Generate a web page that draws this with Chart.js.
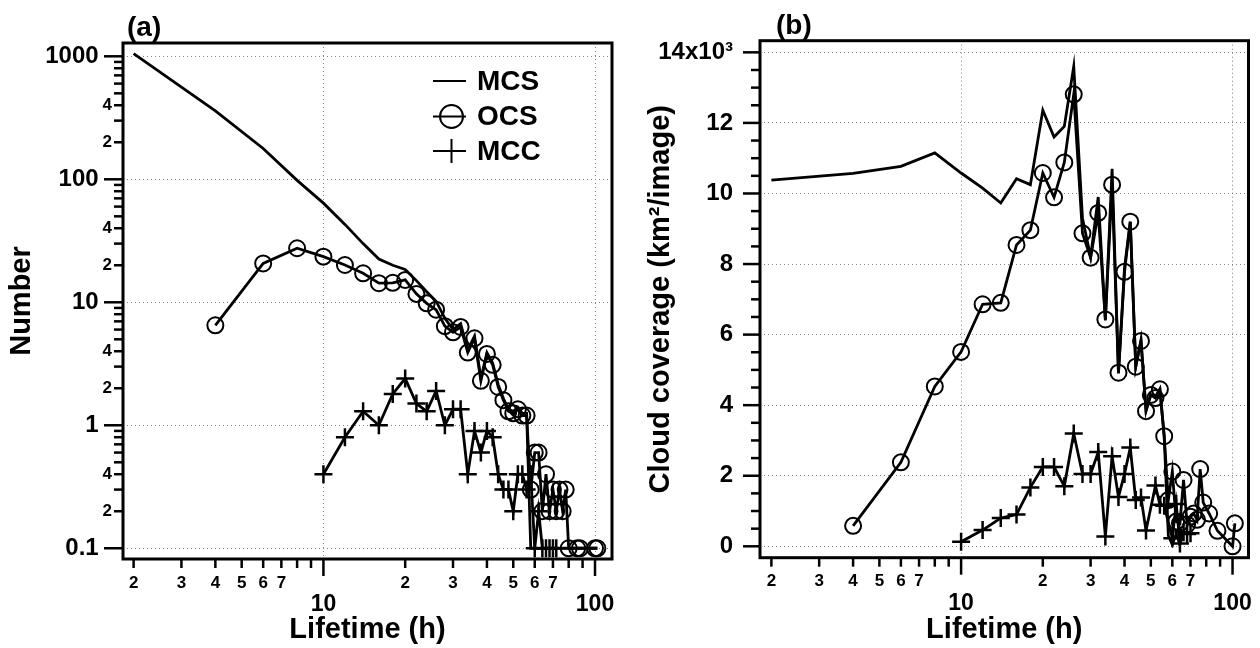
<!DOCTYPE html>
<html><head><meta charset="utf-8">
<script src="https://cdn.jsdelivr.net/npm/chart.js@4"></script>
<style>
html,body{margin:0;padding:0;background:#fff;}
#wrap{position:relative;width:1260px;height:648px;overflow:hidden;}
canvas{position:absolute;top:0;}
#ca{left:0;} #cb{left:630px;}
</style></head><body>
<div id="wrap"><canvas id="ca" width="630" height="648"></canvas><canvas id="cb" width="630" height="648"></canvas></div>
<script>
const FONT = "'Liberation Sans', Arial, Helvetica, sans-serif";

// Lifetime bins (h)
const hours = [2,4,6,8,10,12,14,16,18,20,22,24,26,28,30,32,34,36,38,40,42,44,46,48,50,52,54,56,58,60,62,64,66,68,70,72,74,76,78,80,82,84,86,88,90,92,94,96,98,100,102];

// Panel (a): Number
const mcsNumber = [1050,360,178,98,64,43,30,22.5,20,18.5,15,12.2,10.2,7.4,6.0,6.7,4.1,5.3,2.4,3.9,3.2,2.15,1.65,1.35,1.3,1.4,1.25,1.25,
  0.1,0.1,0.1,0.1,0.1,0.1,0.1,0.1,0.1,0.1,0.1,0.1,0.1,0.1,0.1,0.1,0.1,0.1,0.1,0.1,0.1,0.1,0.1];
const ocsNumber = [null,6.5,20.7,27.5,23.5,20.1,17.2,14.3,14.4,15.2,11.7,9.8,8.7,6.4,5.7,6.3,3.9,5.1,2.3,3.8,3.1,2.05,1.6,1.3,1.25,1.35,1.2,1.2,
  0.3,0.6,0.6,0.2,0.4,0.2,0.3,0.2,0.3,0.2,0.3,0.1,null,null,0.1,0.1,null,null,null,null,null,0.1,0.1];
const mccNumber = [null,null,null,null,0.4,0.8,1.3,1.0,1.8,2.4,1.5,1.3,1.9,1.0,1.35,1.35,0.4,0.9,0.6,0.9,0.8,0.4,0.3,0.3,0.2,0.4,0.4,0.3,0.4,
  0.1,0.2,0.1,0.1,0.1,0.1,0.1,null,null,null,null,null,null,null,null,null,null,null,null,null,null,null];

// Panel (b): Cloud coverage (x10^3 km2/image)
const mcsCover = [10.38,10.57,10.77,11.15,10.58,10.15,9.73,10.42,10.25,12.36,11.6,11.9,13.6,9.3,8.2,9.9,6.4,10.7,4.9,7.9,9.2,5.1,5.85,3.85,4.3,4.25,4.45,3.12,
  0.3,0.05,0.35,0.05,0.4,null,null,null,null,null,null,null,null,null,null,null,null,null,null,null,null,null,null];
const ocsCover = [null,0.58,2.38,4.53,5.51,6.86,6.9,8.54,8.96,10.58,9.89,10.88,12.81,8.87,8.18,9.45,6.43,10.25,4.92,7.78,9.2,5.09,5.82,3.83,4.29,4.2,4.45,3.12,
  1.31,2.12,0.7,0.65,1.88,0.62,0.84,0.93,0.75,2.19,1.24,null,0.93,null,null,0.44,null,null,null,null,null,0,0.65];
const mccCover = [null,null,null,null,0.13,0.46,0.8,0.9,1.67,2.25,2.25,1.7,3.2,2.05,2.05,2.67,0.28,2.55,1.4,2.05,2.8,1.31,1.38,0.45,null,1.72,1.18,1.15,
  null,0.23,1.2,0.08,0.4,0.35,0.37,null,null,null,null,null,null,null,null,null,null,null,null,null,null,null,null];

const seriesLabels = ['MCS','OCS','MCC'];

// Tick values and labels
const xTickValues = [2,3,4,5,6,7,8,9,10,20,30,40,50,60,70,80,90,100];
const xTickLabels = ['2','3','4','5','6','7','','','10','2','3','4','5','6','7','','','100'];
const xMajorTicks = [10,100];

const yTickValuesA = [0.1,0.2,0.3,0.4,0.5,0.6,0.7,0.8,0.9,1,2,3,4,5,6,7,8,9,10,20,30,40,50,60,70,80,90,100,200,300,400,500,600,700,800,900,1000];
const yTickLabelsA = ['0.1','2','','4','','','','','','1','2','','4','','','','','','10','2','','4','','','','','','100','2','','4','','','','','','1000'];
const yMajorTicksA = [0.1,1,10,100,1000];

const yTickValuesB = [0,0.5,1,1.5,2,2.5,3,3.5,4,4.5,5,5.5,6,6.5,7,7.5,8,8.5,9,9.5,10,10.5,11,11.5,12,12.5,13,13.5,14];
const yTickLabelsB = ['0','','','','2','','','','4','','','','6','','','','8','','','','10','','','','12','','','','14x10\u00B3'];
const yMajorTicksB = [0,2,4,6,8,10,12,14];

const GRID = '#808080';
const NONE = 'rgba(0,0,0,0)';

function toXY(arr){ return hours.map((h,i)=>({x:h, y:arr[i]})); }

function makeDatasets(mcs, ocs, mcc){
  return [
    {label:seriesLabels[0], data:toXY(mcs), borderColor:'#000', borderWidth:2.8, pointRadius:0, pointHoverRadius:0, spanGaps:true, tension:0},
    {label:seriesLabels[1], data:toXY(ocs), borderColor:'#000', borderWidth:2.8, pointStyle:'circle', pointRadius:8, pointBorderWidth:2,
      pointBackgroundColor:NONE, pointBorderColor:'#000', spanGaps:true, tension:0},
    {label:seriesLabels[2], data:toXY(mcc), borderColor:'#000', borderWidth:2.8, pointStyle:'cross', pointRadius:9, pointBorderWidth:2.5,
      pointBackgroundColor:'#000', pointBorderColor:'#000', spanGaps:true, tension:0}
  ];
}

function tickFrame(cfg){
  return {
    id:'tickFrame',
    afterDraw(chart){
      const {ctx, chartArea:a, scales:{x, y}} = chart;
      ctx.save();
      ctx.strokeStyle = '#000'; ctx.lineWidth = 2.5; ctx.lineCap = 'butt';
      x.ticks.forEach(t => {
        const px = x.getPixelForValue(t.value);
        const len = cfg.xMajor.includes(t.value) ? 17 : 9;
        ctx.beginPath(); ctx.moveTo(px, a.bottom); ctx.lineTo(px, a.bottom + len); ctx.stroke();
      });
      y.ticks.forEach(t => {
        const py = y.getPixelForValue(t.value);
        const len = cfg.yMajor.includes(t.value) ? cfg.yMajorLen : 9;
        ctx.beginPath(); ctx.moveTo(a.left, py); ctx.lineTo(a.left - len, py); ctx.stroke();
      });
      ctx.lineWidth = 3;
      ctx.strokeRect(a.left, a.top, a.right - a.left, a.bottom - a.top);
      ctx.fillStyle = '#000';
      ctx.font = 'bold 28px ' + FONT;
      ctx.textAlign = 'left'; ctx.textBaseline = 'middle';
      ctx.fillText(cfg.panel, cfg.panelX, cfg.panelY);
      ctx.restore();
    }
  };
}

const innerLegend = {
  id:'innerLegend',
  afterDraw(chart){
    const ctx = chart.ctx;
    const x0 = 433, x1 = 466, xc = 451.5, xt = 477;
    const rows = [81, 116.5, 151];
    ctx.save();
    chart.data.datasets.forEach((ds, i) => {
      const yy = rows[i];
      ctx.strokeStyle = '#000'; ctx.lineWidth = 2;
      ctx.beginPath(); ctx.moveTo(x0, yy); ctx.lineTo(x1, yy); ctx.stroke();
      if (ds.pointStyle === 'circle' && ds.pointRadius > 0) {
        ctx.beginPath(); ctx.arc(xc, yy, 11.5, 0, Math.PI * 2); ctx.stroke();
      } else if (ds.pointStyle === 'cross') {
        ctx.beginPath(); ctx.moveTo(xc, yy - 12); ctx.lineTo(xc, yy + 12); ctx.stroke();
      }
      ctx.fillStyle = '#000';
      ctx.font = 'bold 28px ' + FONT;
      ctx.textAlign = 'left'; ctx.textBaseline = 'middle';
      ctx.fillText(ds.label, xt, yy + 1);
    });
    ctx.restore();
  }
};

function xScale(min, max, h, pad, majLH){
  return {
    type:'logarithmic', min:min, max:max, bounds:'data',
    afterBuildTicks: s => { s.ticks = xTickValues.map(v => ({value:v})); },
    afterFit: s => { s.height = h; s.paddingLeft = 0; s.paddingRight = 0; },
    grid:{ drawTicks:false, lineWidth:1, color: c => (c.tick && xMajorTicks.includes(c.tick.value)) ? GRID : NONE },
    border:{ display:false, dash:[1,3] },
    ticks:{ autoSkip:false, maxRotation:0, minRotation:0, padding:pad, color:'#000',
      font: c => (c.tick && xMajorTicks.includes(c.tick.value))
        ? {family:FONT, size:23, weight:'bold', lineHeight:majLH}
        : {family:FONT, size:17, weight:'bold', lineHeight:1.2},
      callback: (v, i) => xMajorTicks.includes(xTickValues[i]) ? ['', xTickLabels[i]] : xTickLabels[i] },
    title:{ display:true, text:'Lifetime (h)', color:'#000',
      font:{family:FONT, size:29, weight:'bold', lineHeight:1.2}, padding:{top:0, bottom:0.6} }
  };
}

// Panel (a)
new Chart(document.getElementById('ca'), {
  type:'line',
  data:{ datasets: makeDatasets(mcsNumber, ocsNumber, mccNumber) },
  options:{
    responsive:false, animation:false, devicePixelRatio:1, events:[],
    layout:{ padding:{left:0, top:43, right:18, bottom:0} },
    plugins:{ legend:{display:false}, tooltip:{enabled:false} },
    scales:{
      x: xScale(1.828, 115.5, 89, 13.8, 0.935),
      y:{
        type:'logarithmic', min:0.0818, max:1283, bounds:'data',
        afterBuildTicks: s => { s.ticks = yTickValuesA.map(v => ({value:v})); },
        afterFit: s => { s.width = 123; s.paddingTop = 0; s.paddingBottom = 0; },
        grid:{ drawTicks:false, lineWidth:1, color: c => (c.tick && yMajorTicksA.includes(c.tick.value)) ? GRID : NONE },
        border:{ display:false, dash:[1,3] },
        ticks:{ autoSkip:false, padding:11, color:'#000',
          font: c => (c.tick && yMajorTicksA.includes(c.tick.value))
            ? {family:FONT, size:24, weight:'bold', lineHeight:1.2}
            : {family:FONT, size:17, weight:'bold', lineHeight:1.2},
          callback: (v, i) => yMajorTicksA.includes(yTickValuesA[i]) ? yTickLabelsA[i] + '  ' : yTickLabelsA[i] },
        title:{ display:true, text:'Number', color:'#000',
          font:{family:FONT, size:29, weight:'bold', lineHeight:1.2}, padding:{top:4.6, bottom:0} }
      }
    }
  },
  plugins:[ tickFrame({panel:'(a)', panelX:127, panelY:28, xMajor:xMajorTicks, yMajor:yMajorTicksA, yMajorLen:19}), innerLegend ]
});

// Panel (b)
new Chart(document.getElementById('cb'), {
  type:'line',
  data:{ datasets: makeDatasets(mcsCover, ocsCover, mccCover) },
  options:{
    responsive:false, animation:false, devicePixelRatio:1, events:[],
    layout:{ padding:{left:0, top:40.7, right:9.3, bottom:0} },
    plugins:{ legend:{display:false}, tooltip:{enabled:false} },
    scales:{
      x: xScale(1.816, 114.5, 90.3, 13.1, 0.948),
      y:{
        type:'linear', min:-0.323, max:14.33, bounds:'data',
        afterBuildTicks: s => { s.ticks = yTickValuesB.map(v => ({value:v})); },
        afterFit: s => { s.width = 130; s.paddingTop = 0; s.paddingBottom = 0; },
        grid:{ drawTicks:false, lineWidth:1, color: c => (c.tick && yMajorTicksB.includes(c.tick.value)) ? GRID : NONE },
        border:{ display:false, dash:[1,3] },
        ticks:{ autoSkip:false, padding:27, color:'#000',
          font:{family:FONT, size:24, weight:'bold', lineHeight:1.2},
          callback: (v, i) => yTickLabelsB[i] },
        title:{ display:true, text:'Cloud coverage (km\u00B2/image)', color:'#000',
          font:{family:FONT, size:29, weight:'bold', lineHeight:1.2}, padding:{top:13.6, bottom:0} }
      }
    }
  },
  plugins:[ tickFrame({panel:'(b)', panelX:146, panelY:26, xMajor:xMajorTicks, yMajor:yMajorTicksB, yMajorLen:17}) ]
});
</script>
</body></html>
